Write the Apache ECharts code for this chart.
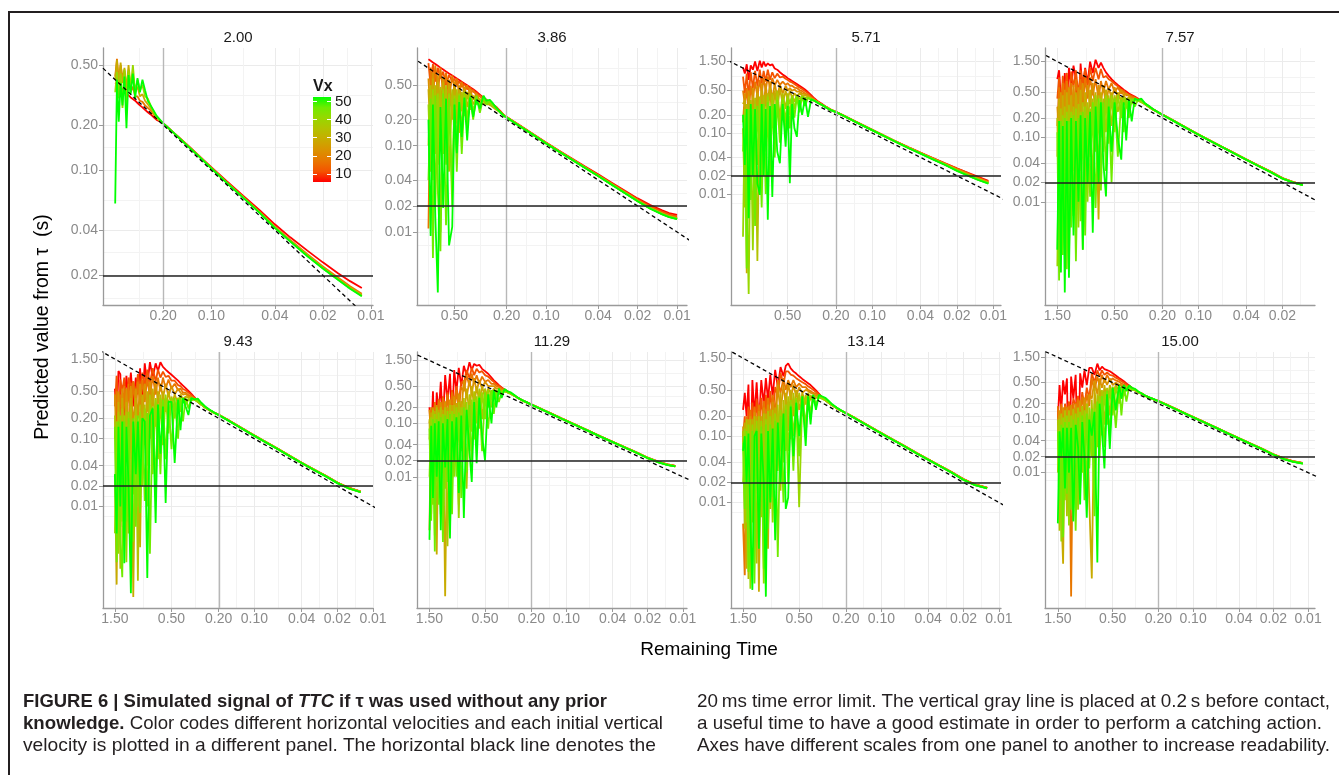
<!DOCTYPE html>
<html>
<head>
<meta charset="utf-8">
<script src="https://cdn.jsdelivr.net/npm/echarts@6/dist/echarts.min.js"></script>
<style>
html,body{margin:0;padding:0;background:#fff;overflow:hidden;}
#chart{position:absolute;left:0;top:0;width:1339px;height:775px;}
#frame{position:absolute;left:8px;top:11px;width:1400px;height:800px;border-left:2px solid #231f20;border-top:2px solid #231f20;}
.cap{position:absolute;white-space:nowrap;font-family:"Liberation Sans",Arial,sans-serif;font-size:19px;line-height:22px;color:#231f20;transform-origin:0 50%;}
</style>
</head>
<body>
<div id="frame"></div>
<div id="chart"></div>
<div class="cap" style="left:23px;top:690px" data-w="584"><b>FIGURE 6 | Simulated signal of <i>TTC</i> if τ was used without any prior</b></div>
<div class="cap" style="left:23px;top:712px" data-w="640"><b>knowledge.</b> Color codes different horizontal velocities and each initial vertical</div>
<div class="cap" style="left:23px;top:734px" data-w="633">velocity is plotted in a different panel. The horizontal black line denotes the</div>
<div class="cap" style="left:697px;top:690px" data-w="633">20&#8201;ms time error limit. The vertical gray line is placed at 0.2&#8201;s before contact,</div>
<div class="cap" style="left:697px;top:712px" data-w="625">a useful time to have a good estimate in order to perform a catching action.</div>
<div class="cap" style="left:697px;top:734px" data-w="633">Axes have different scales from one panel to another to increase readability.</div>
<script>
// ---------------- DATA ----------------
const PANEL_TITLES = ['2.00','3.86','5.71','7.57','9.43','11.29','13.14','15.00'];
const VX = [10, 15, 20, 25, 30, 35, 40, 45, 50];
const VX_COLORS = ['#FF0000','#F45300','#E87700','#DA9200','#C8AB00','#B3C200','#98D700','#70EB00','#00FF00'];
const BREAKS = [0.01, 0.02, 0.04, 0.1, 0.2, 0.5, 1.5];
const COLORBAR_TICKS = [10, 20, 30, 40, 50];
const COLORBAR_RANGE = [5.5, 52.5];
const ERROR_LIMIT = 0.02;
const CATCH_TIME = 0.2;
const IDENTITY = [0.00001, 10];
const X_RANGES = [[0.0097,0.477],[0.0084,0.966],[0.00865,1.47],[0.0107,1.9],[0.0100,1.89],[0.0092,1.92],[0.0096,1.90],[0.0087,1.94]];
const Y_RANGES = [[0.0127,0.65],[0.00143,1.35],[0.000151,2.5],[0.00025,2.44],[0.000316,1.91],[0.000035,2.17],[0.000256,1.86],[0.0000278,1.89]];

// Panel 1 (Vz = 2.00)
const T1 = [0.400,0.390,0.380,0.370,0.360,0.350,0.340,0.330,0.320,0.310,0.300,0.290,0.280,0.270,0.260,0.250,0.240,0.230,0.220,
  0.200,0.170,0.140,0.120,0.100,0.080,0.063,0.050,0.040,0.032,0.025,0.020,0.016,0.0135,0.0114];
const P1_10 = [0.380,0.370,0.365,0.355,0.345,0.335,0.325,0.315,0.305,0.298,0.290,0.280,0.270,0.262,0.252,0.243,0.235,0.226,0.216,
  0.206,0.176,0.146,0.1255,0.105,0.0845,0.0675,0.0545,0.0437,0.0358,0.0292,0.0244,0.0206,0.0183,0.0165];
const P1_20 = [0.420,0.550,0.400,0.500,0.410,0.460,0.360,0.420,0.330,0.360,0.310,0.310,0.290,0.285,0.270,0.260,0.250,0.235,0.222,
  0.205,0.1755,0.145,0.1248,0.1038,0.0832,0.0662,0.0530,0.0422,0.0344,0.0276,0.0229,0.0193,0.0169,0.0151];
const P1_30 = [0.400,0.540,0.360,0.520,0.380,0.480,0.340,0.500,0.360,0.420,0.330,0.360,0.310,0.320,0.290,0.275,0.260,0.240,0.222,
  0.205,0.175,0.1448,0.1245,0.1035,0.0828,0.0659,0.0527,0.0418,0.0340,0.0272,0.0225,0.0189,0.0166,0.0148];
const P1_40 = [0.330,0.450,0.300,0.440,0.260,0.470,0.260,0.460,0.350,0.500,0.330,0.400,0.340,0.370,0.310,0.300,0.270,0.245,0.225,
  0.205,0.175,0.1445,0.1242,0.1032,0.0826,0.0657,0.0524,0.0416,0.0338,0.0270,0.0223,0.0187,0.0164,0.0146];
const P1_50 = [0.060,0.400,0.210,0.380,0.270,0.420,0.190,0.430,0.320,0.440,0.300,0.410,0.330,0.400,0.340,0.290,0.270,0.250,0.230,
  0.205,0.175,0.144,0.124,0.103,0.0825,0.0655,0.0522,0.0414,0.0336,0.0268,0.0222,0.0186,0.0163,0.0145];

// Panel 2 (Vz = 3.86)
const T2 = [0.79,0.76,0.73,0.70,0.67,0.64,0.61,0.58,0.55,0.52,0.50,0.48,0.46,0.44,0.42,0.40,0.38,0.36,0.34,0.32,0.30,0.285,0.27,0.255,0.24,0.225,
  0.21,0.19,0.16,0.13,0.10,0.08,0.063,0.05,0.04,0.032,0.025,0.02,0.016,0.013,0.0115,0.010];
const P2_10 = [1.00,0.96,0.92,0.88,0.84,0.80,0.76,0.72,0.685,0.65,0.625,0.60,0.575,0.55,0.525,0.50,0.475,0.45,0.42,0.39,0.36,0.34,0.32,0.30,0.28,0.255,
  0.226,0.205,0.173,0.141,0.109,0.088,0.0705,0.0570,0.0465,0.0378,0.0300,0.0245,0.0205,0.0178,0.0166,0.0158];
const P2_15 = [0.90,0.50,0.88,0.55,0.80,0.60,0.72,0.50,0.66,0.55,0.60,0.50,0.56,0.48,0.52,0.45,0.47,0.42,0.41,0.37,0.35,0.33,0.31,0.295,0.275,0.252,
  0.225,0.204,0.172,0.140,0.108,0.0872,0.0697,0.0563,0.0458,0.0371,0.0294,0.0239,0.0198,0.0172,0.0160,0.0152];
const P2_20 = [0.011,0.80,0.35,0.85,0.40,0.80,0.40,0.70,0.35,0.65,0.45,0.60,0.40,0.55,0.42,0.50,0.40,0.44,0.38,0.38,0.34,0.33,0.31,0.30,0.28,0.25,
  0.224,0.203,0.171,0.139,0.107,0.0865,0.069,0.0556,0.0451,0.0365,0.0289,0.0233,0.0192,0.0166,0.0154,0.0147];
const P2_25 = [0.60,0.20,0.70,0.25,0.65,0.28,0.62,0.22,0.58,0.30,0.55,0.30,0.50,0.32,0.48,0.35,0.45,0.34,0.40,0.33,0.35,0.31,0.30,0.29,0.27,0.248,
  0.2235,0.2025,0.1705,0.1388,0.1068,0.0862,0.0688,0.0554,0.0449,0.0363,0.0287,0.0231,0.0190,0.0164,0.0152,0.0145];
const P2_30 = [0.45,0.12,0.60,0.08,0.55,0.15,0.55,0.10,0.50,0.20,0.48,0.18,0.45,0.25,0.45,0.28,0.40,0.30,0.36,0.31,0.33,0.30,0.30,0.28,0.26,0.245,
  0.223,0.202,0.170,0.1385,0.1065,0.086,0.0686,0.0552,0.0447,0.0361,0.0285,0.0230,0.0189,0.0163,0.0151,0.0144];
const P2_35 = [0.10,0.50,0.04,0.50,0.06,0.48,0.08,0.50,0.05,0.45,0.12,0.45,0.14,0.42,0.22,0.42,0.26,0.38,0.30,0.35,0.30,0.34,0.30,0.29,0.265,0.245,
  0.2225,0.2018,0.1698,0.1383,0.1063,0.0858,0.0685,0.0551,0.0446,0.0360,0.0284,0.0229,0.0188,0.0162,0.01505,0.0143];
const P2_40 = [0.30,0.05,0.45,0.02,0.40,0.01,0.45,0.06,0.40,0.03,0.38,0.10,0.40,0.15,0.42,0.20,0.40,0.25,0.37,0.29,0.36,0.31,0.32,0.29,0.27,0.245,
  0.222,0.2015,0.1695,0.138,0.106,0.0857,0.0684,0.055,0.0445,0.0359,0.0283,0.0228,0.0187,0.0161,0.0150,0.0142];
const P2_45 = [0.04,0.35,0.005,0.38,0.03,0.006,0.40,0.012,0.35,0.02,0.35,0.05,0.38,0.08,0.35,0.16,0.38,0.20,0.38,0.24,0.37,0.30,0.33,0.30,0.27,0.245,
  0.222,0.2012,0.1692,0.138,0.106,0.0856,0.0683,0.0549,0.04445,0.03585,0.02825,0.02275,0.01865,0.01605,0.01495,0.01415];
const P2_50 = [0.20,0.009,0.30,0.015,0.002,0.28,0.019,0.35,0.007,0.0115,0.30,0.082,0.32,0.126,0.36,0.115,0.36,0.216,0.34,0.27,0.38,0.33,0.34,0.31,0.275,0.245,
  0.222,0.201,0.169,0.138,0.106,0.0855,0.0682,0.0548,0.0444,0.0358,0.0282,0.0227,0.0186,0.0160,0.0149,0.0141];

// Panel 3 (Vz = 5.71)
const T3 = [1.17,1.13,1.09,1.05,1.01,0.97,0.93,0.89,0.85,0.82,0.79,0.76,0.73,0.70,0.67,0.64,0.61,0.58,0.55,0.52,0.50,0.48,0.46,0.44,0.42,0.40,0.38,0.36,0.34,0.32,0.30,0.28,0.26,0.24,0.22,
  0.20,0.17,0.14,0.11,0.085,0.065,0.05,0.04,0.032,0.025,0.02,0.016,0.0135,0.011];
const P3_10 = [1.20,0.95,1.35,0.75,1.30,1.10,1.50,1.05,1.55,1.20,1.50,1.25,1.40,1.30,1.35,1.15,1.10,1.00,0.92,0.85,0.80,0.76,0.72,0.68,0.64,0.60,0.56,0.52,0.47,0.42,0.37,0.33,0.30,0.27,0.245,
  0.225,0.192,0.158,0.125,0.097,0.0745,0.0585,0.048,0.0395,0.032,0.0265,0.0222,0.0193,0.0165];
const P3_15 = [0.85,0.45,0.95,0.40,1.00,0.55,1.05,0.60,1.10,0.65,1.05,0.70,1.10,0.75,1.00,0.80,0.95,0.82,0.85,0.78,0.75,0.70,0.68,0.64,0.60,0.56,0.53,0.49,0.45,0.40,0.36,0.325,0.295,0.268,0.243,
  0.2245,0.1915,0.1575,0.1245,0.0966,0.0742,0.0582,0.0477,0.0392,0.0317,0.0261,0.0218,0.0189,0.0161];
const P3_20 = [0.50,0.30,0.55,0.20,0.60,0.35,0.70,0.40,0.75,0.45,0.80,0.50,0.85,0.55,0.80,0.60,0.75,0.62,0.70,0.62,0.66,0.60,0.60,0.56,0.55,0.51,0.49,0.45,0.42,0.38,0.35,0.32,0.29,0.265,0.24,
  0.224,0.191,0.157,0.124,0.0962,0.0739,0.0578,0.0474,0.0388,0.0313,0.0256,0.0213,0.0184,0.0157];
const P3_25 = [0.15,0.45,0.08,0.50,0.10,0.55,0.15,0.60,0.18,0.65,0.25,0.65,0.30,0.70,0.35,0.65,0.40,0.62,0.45,0.60,0.50,0.55,0.50,0.52,0.48,0.48,0.45,0.44,0.41,0.375,0.345,0.315,0.29,0.265,0.24,
  0.2235,0.1905,0.1565,0.1235,0.096,0.0737,0.0575,0.0472,0.0386,0.0311,0.0253,0.0210,0.0181,0.0156];
const P3_30 = [0.30,0.35,0.0005,0.40,0.05,0.40,0.08,0.45,0.12,0.50,0.10,0.45,0.20,0.55,0.15,0.50,0.25,0.55,0.30,0.50,0.35,0.50,0.38,0.45,0.40,0.45,0.42,0.42,0.40,0.37,0.34,0.31,0.29,0.265,0.24,
  0.223,0.190,0.156,0.123,0.0957,0.0735,0.0572,0.0469,0.0383,0.0308,0.0249,0.0206,0.0178,0.0154];
const P3_35 = [0.12,0.006,0.30,0.02,0.35,0.04,0.38,0.0008,0.40,0.06,0.42,0.08,0.45,0.10,0.45,0.15,0.50,0.18,0.45,0.25,0.45,0.30,0.42,0.33,0.42,0.36,0.41,0.38,0.39,0.36,0.34,0.315,0.29,0.265,0.24,
  0.2225,0.1898,0.1558,0.1228,0.0955,0.0734,0.057,0.0467,0.038,0.0305,0.0246,0.0203,0.0176,0.0152];
const P3_40 = [0.002,0.25,0.01,0.00023,0.20,0.0012,0.30,0.03,0.35,0.02,0.30,0.05,0.40,0.06,0.35,0.10,0.40,0.12,0.38,0.15,0.40,0.20,0.40,0.25,0.42,0.30,0.40,0.33,0.38,0.35,0.34,0.32,0.29,0.265,0.24,
  0.222,0.1895,0.1555,0.1225,0.0953,0.0732,0.0568,0.0465,0.0378,0.0303,0.0244,0.0201,0.0174,0.0151];
const P3_45 = [0.05,0.20,0.0006,0.25,0.008,0.25,0.003,0.28,0.05,0.006,0.30,0.01,0.32,0.02,0.30,0.04,0.35,0.07,0.35,0.09,0.35,0.12,0.38,0.18,0.40,0.22,0.40,0.28,0.38,0.36,0.34,0.315,0.29,0.263,0.239,
  0.222,0.1892,0.1552,0.1222,0.0951,0.0731,0.0566,0.0463,0.0376,0.0301,0.0242,0.0199,0.0173,0.0149];
const P3_50 = [0.20,0.03,0.25,0.004,0.30,0.02,0.25,0.015,0.0097,0.30,0.02,0.25,0.0038,0.28,0.009,0.30,0.05,0.032,0.30,0.06,0.28,0.015,0.30,0.12,0.087,0.35,0.20,0.38,0.186,0.36,0.34,0.31,0.29,0.262,0.238,
  0.222,0.189,0.155,0.122,0.095,0.073,0.0565,0.0462,0.0375,0.0300,0.0240,0.0198,0.0172,0.0148];

// Panels 4-8 share the early remaining-time samples
const T_EARLY = [1.50,1.45,1.40,1.35,1.30,1.25,1.20,1.15,1.10,1.05,1.00,0.96,0.92,0.88,0.84,0.80,0.76,0.72,0.68,0.65,0.62,0.59,0.56,0.53,0.50,0.47,0.44,0.42,0.40,0.38,0.36,0.34,0.32,0.30,0.28,0.26,0.24,0.22];

// Panel 4 (Vz = 7.57)
const T4 = [...T_EARLY, 0.20,0.17,0.14,0.11,0.085,0.065,0.05,0.04,0.032,0.025,0.02,0.016,0.0135];
const P4_10 = [0.80,1.10,0.40,0.05,1.00,0.30,1.20,0.60,1.30,0.80,0.13,1.40,0.50,1.20,0.70,1.50,1.00,1.60,1.20,1.45,1.20,1.02,0.90,0.80,0.72,0.65,0.59,0.55,0.515,0.48,0.455,0.43,0.40,0.37,0.335,0.305,0.275,0.25,
  0.226,0.192,0.157,0.122,0.0945,0.0728,0.0565,0.0455,0.0368,0.0294,0.0234,0.0201,0.0185];
const P4_15 = [0.40,0.85,0.25,0.90,0.50,1.00,0.35,1.05,0.60,1.10,0.45,1.10,0.70,1.15,0.60,1.20,0.75,1.20,0.80,1.15,0.85,0.90,0.80,0.75,0.68,0.62,0.55,0.53,0.48,0.46,0.44,0.42,0.39,0.365,0.333,0.303,0.274,0.249,
  0.2258,0.1918,0.1568,0.1219,0.0944,0.0727,0.0564,0.04545,0.0367,0.0293,0.0233,0.02005,0.01845];
const P4_20 = [0.15,0.60,0.20,0.70,0.25,0.75,0.30,0.70,0.20,0.80,0.35,0.80,0.30,0.85,0.40,0.85,0.45,0.80,0.40,0.75,0.50,0.75,0.55,0.70,0.50,0.60,0.48,0.52,0.45,0.45,0.42,0.41,0.385,0.36,0.33,0.30,0.272,0.248,
  0.2255,0.1915,0.1565,0.1218,0.0943,0.0726,0.0563,0.0454,0.0366,0.0292,0.0232,0.0200,0.0184];
const P4_25 = [0.30,0.10,0.50,0.08,0.55,0.12,0.60,0.15,0.65,0.10,0.60,0.20,0.70,0.25,0.65,0.30,0.70,0.22,0.65,0.35,0.65,0.30,0.60,0.40,0.60,0.42,0.55,0.45,0.48,0.44,0.40,0.40,0.38,0.357,0.33,0.30,0.272,0.248,
  0.2252,0.1912,0.1562,0.1216,0.0941,0.0725,0.0562,0.0453,0.03655,0.02915,0.02315,0.01995,0.01835];
const P4_30 = [0.05,0.40,0.008,0.45,0.02,0.50,0.05,0.45,0.03,0.50,0.10,0.55,0.06,0.50,0.12,0.55,0.15,0.50,0.0053,0.50,0.20,0.55,0.25,0.50,0.30,0.50,0.35,0.45,0.38,0.42,0.38,0.40,0.37,0.355,0.33,0.30,0.272,0.248,
  0.225,0.191,0.156,0.1215,0.094,0.0724,0.0561,0.0452,0.0365,0.0291,0.0231,0.0199,0.0183];
const P4_35 = [0.20,0.003,0.28,0.01,0.30,0.004,0.32,0.02,0.30,0.008,0.33,0.03,0.35,0.01,0.35,0.05,0.40,0.06,0.45,0.10,0.40,0.12,0.45,0.15,0.45,0.25,0.42,0.32,0.40,0.40,0.36,0.39,0.37,0.355,0.33,0.30,0.272,0.248,
  0.2248,0.1908,0.1558,0.1214,0.0939,0.0723,0.05605,0.04515,0.0364,0.029,0.02305,0.01985,0.01825];
const P4_40 = [0.001,0.18,0.006,0.22,0.002,0.25,0.0013,0.25,0.006,0.28,0.004,0.25,0.0018,0.30,0.01,0.28,0.02,0.45,0.03,0.40,0.06,0.45,0.08,0.45,0.12,0.45,0.20,0.42,0.28,0.40,0.33,0.38,0.37,0.355,0.33,0.30,0.272,0.248,
  0.2245,0.1905,0.1555,0.1212,0.0938,0.0722,0.0560,0.0451,0.0363,0.0289,0.0230,0.0198,0.0182];
const P4_45 = [0.12,0.0006,0.18,0.0015,0.20,0.0009,0.18,0.004,0.22,0.0012,0.20,0.005,0.25,0.003,0.22,0.012,0.35,0.008,0.40,0.015,0.35,0.03,0.40,0.02,0.40,0.05,0.38,0.12,0.40,0.20,0.40,0.30,0.38,0.38,0.34,0.305,0.274,0.249,
  0.2242,0.1902,0.1552,0.1211,0.09365,0.0721,0.0559,0.04505,0.03625,0.02885,0.02295,0.01975,0.01815];
const P4_50 = [0.0018,0.18,0.0008,0.15,0.00039,0.18,0.00066,0.20,0.003,0.18,0.01,0.22,0.0018,0.20,0.02,0.25,0.0033,0.30,0.02,0.35,0.04,0.0121,0.30,0.06,0.35,0.10,0.045,0.35,0.09,0.38,0.177,0.40,0.38,0.40,0.34,0.31,0.275,0.25,
  0.224,0.190,0.155,0.121,0.0935,0.0720,0.0558,0.0450,0.0362,0.0288,0.0229,0.0197,0.0181];

// Panel 5 (Vz = 9.43)
const T5 = [...T_EARLY, 0.20,0.17,0.14,0.11,0.085,0.065,0.05,0.04,0.032,0.025,0.02,0.016,0.0127];
const P5_10 = [0.55,0.18,1.00,0.90,0.048,0.30,0.85,0.40,0.95,0.30,0.80,0.45,1.10,0.35,1.30,0.60,1.35,0.80,1.30,1.00,1.35,1.15,1.05,0.96,0.88,0.80,0.72,0.66,0.61,0.56,0.51,0.46,0.41,0.36,0.32,0.29,0.265,0.245,
  0.226,0.193,0.158,0.123,0.0950,0.0728,0.0555,0.0443,0.0357,0.0283,0.0226,0.0189,0.0166];
const P5_15 = [0.30,0.85,0.12,0.75,0.50,0.80,0.20,0.80,0.60,0.70,0.45,0.90,0.55,0.95,0.60,1.05,0.65,1.10,0.70,1.05,0.80,0.98,0.82,0.85,0.72,0.72,0.62,0.60,0.54,0.52,0.48,0.44,0.40,0.355,0.32,0.29,0.265,0.244,
  0.2258,0.1928,0.1578,0.1228,0.0949,0.0727,0.05545,0.04425,0.03565,0.02825,0.02255,0.01885,0.01655];
const P5_20 = [0.10,0.50,0.30,0.45,0.15,0.60,0.10,0.65,0.20,0.70,0.25,0.70,0.30,0.75,0.35,0.80,0.40,0.85,0.45,0.80,0.50,0.80,0.55,0.75,0.55,0.65,0.52,0.55,0.48,0.48,0.44,0.42,0.39,0.35,0.32,0.29,0.265,0.243,
  0.2255,0.1925,0.1575,0.1225,0.0947,0.0726,0.0554,0.0442,0.0356,0.0282,0.0225,0.0188,0.0165];
const P5_25 = [0.45,0.05,0.50,0.06,0.55,0.08,0.55,0.12,0.60,0.15,0.55,0.20,0.65,0.18,0.65,0.25,0.70,0.30,0.70,0.35,0.65,0.40,0.65,0.42,0.60,0.45,0.55,0.48,0.45,0.46,0.42,0.41,0.385,0.35,0.32,0.29,0.265,0.243,
  0.2252,0.1922,0.1572,0.1222,0.0945,0.07245,0.0553,0.0441,0.03555,0.02815,0.02245,0.01875,0.01645];
const P5_30 = [0.03,0.0007,0.35,0.005,0.40,0.01,0.35,0.03,0.40,0.00046,0.40,0.05,0.0025,0.45,0.08,0.50,0.10,0.55,0.15,0.50,0.20,0.50,0.25,0.50,0.30,0.45,0.33,0.45,0.38,0.42,0.40,0.40,0.38,0.35,0.32,0.29,0.265,0.243,
  0.225,0.192,0.157,0.122,0.0943,0.0723,0.0552,0.044,0.0355,0.0281,0.0224,0.0187,0.0164];
const P5_35 = [0.22,0.008,0.25,0.0012,0.28,0.02,0.25,0.004,0.30,0.015,0.28,0.0008,0.32,0.03,0.32,0.04,0.45,0.06,0.40,0.10,0.45,0.15,0.40,0.20,0.42,0.25,0.40,0.30,0.40,0.36,0.38,0.38,0.38,0.35,0.32,0.29,0.265,0.243,
  0.2245,0.1915,0.1565,0.1218,0.0941,0.07215,0.0551,0.0439,0.0354,0.028,0.0223,0.0186,0.01635];
const P5_40 = [0.004,0.18,0.002,0.22,0.006,0.22,0.0015,0.25,0.008,0.003,0.22,0.01,0.25,0.02,0.28,0.01,0.32,0.03,0.38,0.05,0.40,0.08,0.45,0.12,0.40,0.20,0.40,0.25,0.40,0.32,0.38,0.37,0.38,0.35,0.32,0.29,0.265,0.243,
  0.224,0.191,0.156,0.1215,0.0939,0.0720,0.0550,0.0438,0.0353,0.0279,0.0222,0.0185,0.0163];
const P5_45 = [0.15,0.0015,0.18,0.003,0.0009,0.18,0.006,0.20,0.002,0.20,0.005,0.22,0.008,0.20,0.012,0.24,0.002,0.30,0.02,0.32,0.03,0.38,0.05,0.38,0.07,0.40,0.10,0.42,0.18,0.40,0.28,0.40,0.38,0.37,0.33,0.295,0.267,0.244,
  0.2235,0.1905,0.1555,0.1212,0.0937,0.0719,0.0549,0.04375,0.03525,0.02785,0.02215,0.01845,0.01625];
const P5_50 = [0.03,0.004,0.15,0.01,0.18,0.00145,0.15,0.02,0.00052,0.18,0.03,0.18,0.02,0.20,0.18,0.00088,0.22,0.28,0.0057,0.32,0.06,0.30,0.0112,0.35,0.35,0.044,0.38,0.134,0.40,0.30,0.224,0.40,0.38,0.39,0.34,0.30,0.27,0.246,
  0.223,0.190,0.155,0.121,0.0935,0.0718,0.0548,0.0437,0.0352,0.0278,0.0221,0.0184,0.0162];

// Panel 6 (Vz = 11.29)
const T6 = [...T_EARLY, 0.20,0.17,0.14,0.11,0.085,0.065,0.05,0.04,0.032,0.025,0.02,0.016,0.0135,0.0116];
const P6_10 = [0.20,0.049,0.40,0.032,0.38,0.15,0.60,0.10,0.80,0.25,0.85,0.10,1.00,0.40,1.10,0.50,1.20,0.80,1.40,1.00,1.30,1.20,1.25,1.05,0.95,0.85,0.72,0.64,0.58,0.52,0.47,0.43,0.40,0.36,0.33,0.30,0.27,0.25,
  0.227,0.193,0.159,0.124,0.0960,0.0735,0.0562,0.0452,0.0364,0.0287,0.0228,0.0190,0.0171,0.0161];
const P6_15 = [0.10,0.18,0.02,0.25,0.06,0.28,0.05,0.32,0.12,0.38,0.10,0.42,0.25,0.50,0.25,0.60,0.55,1.00,0.70,1.10,0.80,1.05,0.90,0.95,0.80,0.75,0.65,0.60,0.54,0.50,0.46,0.425,0.395,0.36,0.33,0.30,0.27,0.248,
  0.2265,0.1925,0.1585,0.1238,0.0958,0.0733,0.05605,0.0451,0.0363,0.0286,0.0227,0.0189,0.017,0.016];
const P6_20 = [0.001,0.20,0.06,0.25,0.08,0.28,0.10,0.30,0.12,0.35,0.10,0.38,0.15,0.42,0.18,0.48,0.40,0.80,0.50,0.85,0.55,0.80,0.55,0.75,0.60,0.65,0.55,0.55,0.50,0.48,0.45,0.42,0.39,0.36,0.33,0.30,0.27,0.247,
  0.226,0.192,0.158,0.1235,0.0955,0.0731,0.0559,0.0450,0.0362,0.0285,0.0226,0.0188,0.0169,0.0159];
const P6_25 = [0.18,0.04,0.20,0.05,0.22,0.01,0.25,0.07,0.26,0.08,0.28,0.10,0.32,0.12,0.36,0.15,0.65,0.30,0.65,0.35,0.70,0.40,0.65,0.45,0.60,0.50,0.50,0.50,0.45,0.45,0.42,0.41,0.385,0.36,0.33,0.30,0.27,0.247,
  0.2258,0.1918,0.1578,0.1233,0.0953,0.073,0.0558,0.0449,0.03615,0.02845,0.02255,0.01875,0.01685,0.01585];
const P6_30 = [0.05,0.16,0.02,0.17,0.00035,0.18,0.005,0.18,0.000058,0.20,0.02,0.22,0.05,0.24,0.003,0.26,0.10,0.45,0.15,0.50,0.20,0.50,0.25,0.50,0.30,0.45,0.35,0.45,0.38,0.42,0.40,0.40,0.38,0.36,0.33,0.30,0.27,0.247,
  0.2255,0.1915,0.1575,0.123,0.0952,0.0729,0.0557,0.0448,0.0361,0.0284,0.0225,0.0187,0.0168,0.0158];
const P6_35 = [0.12,0.002,0.18,0.0008,0.20,0.004,0.20,0.012,0.20,0.0005,0.22,0.008,0.22,0.02,0.25,0.03,0.30,0.006,0.35,0.07,0.40,0.10,0.45,0.12,0.45,0.20,0.42,0.28,0.42,0.35,0.40,0.40,0.38,0.36,0.33,0.30,0.27,0.247,
  0.2252,0.1912,0.1572,0.1228,0.095,0.07275,0.0556,0.04475,0.036,0.02835,0.02245,0.01865,0.01675,0.01575];
const P6_40 = [0.01,0.13,0.003,0.15,0.008,0.16,0.002,0.15,0.006,0.17,0.001,0.17,0.01,0.20,0.0017,0.20,0.02,0.25,0.03,0.28,0.05,0.32,0.08,0.38,0.12,0.42,0.20,0.42,0.28,0.40,0.35,0.40,0.38,0.36,0.33,0.30,0.27,0.247,
  0.225,0.191,0.157,0.1225,0.0948,0.0726,0.0555,0.0447,0.0359,0.0283,0.0224,0.0186,0.0167,0.0157];
const P6_45 = [0.08,0.0015,0.12,0.0004,0.12,0.003,0.13,0.0006,0.14,0.008,0.15,0.002,0.15,0.01,0.16,0.004,0.20,0.012,0.22,0.02,0.28,0.04,0.32,0.03,0.38,0.08,0.42,0.15,0.42,0.25,0.40,0.42,0.39,0.37,0.335,0.30,0.271,0.248,
  0.2245,0.1905,0.1565,0.1222,0.0946,0.0725,0.05545,0.04465,0.03585,0.02825,0.02235,0.01855,0.01665,0.0157];
const P6_50 = [0.00066,0.09,0.004,0.10,0.01,0.11,0.001,0.10,0.015,0.12,0.0007,0.11,0.02,0.13,0.005,0.14,0.0017,0.18,0.03,0.008,0.25,0.018,0.30,0.06,0.02,0.35,0.10,0.42,0.20,0.45,0.30,0.44,0.40,0.38,0.34,0.30,0.272,0.25,
  0.224,0.190,0.156,0.122,0.0945,0.0724,0.0554,0.0446,0.0358,0.0282,0.0223,0.0185,0.0166,0.0157];

// Panel 7 (Vz = 13.14)
const T7 = [...T_EARLY, 0.20,0.17,0.14,0.11,0.085,0.065,0.05,0.04,0.032,0.025,0.02,0.016,0.0126];
const P7_10 = [0.25,0.45,0.20,0.60,0.038,0.70,0.20,0.65,0.15,0.70,0.30,0.75,0.35,0.85,0.40,1.00,0.55,1.10,0.80,1.15,1.25,1.05,0.95,0.88,0.80,0.73,0.67,0.63,0.59,0.54,0.49,0.44,0.39,0.35,0.32,0.29,0.265,0.243,
  0.224,0.191,0.157,0.1225,0.0948,0.0728,0.0557,0.0448,0.0361,0.0285,0.0225,0.0188,0.0167];
const P7_15 = [0.10,0.20,0.06,0.28,0.12,0.32,0.08,0.36,0.15,0.38,0.12,0.42,0.16,0.48,0.20,0.55,0.40,0.90,0.60,0.95,0.95,0.85,0.82,0.75,0.70,0.65,0.61,0.565,0.535,0.50,0.465,0.425,0.385,0.35,0.32,0.29,0.265,0.2425,
  0.2236,0.1906,0.1566,0.1222,0.0946,0.07265,0.0556,0.04475,0.036,0.0284,0.0224,0.0187,0.01665];
const P7_20 = [0.0048,0.0008,0.20,0.06,0.25,0.09,0.28,0.12,0.30,0.12,0.34,0.15,0.38,0.18,0.42,0.22,0.70,0.45,0.75,0.50,0.70,0.55,0.70,0.55,0.62,0.55,0.55,0.50,0.48,0.45,0.44,0.41,0.38,0.35,0.32,0.29,0.265,0.242,
  0.2232,0.1902,0.1562,0.122,0.0944,0.0725,0.0555,0.0447,0.0359,0.0283,0.0223,0.0186,0.0166];
const P7_25 = [0.14,0.02,0.18,0.04,0.20,0.03,0.23,0.06,0.24,0.04,0.27,0.07,0.30,0.09,0.33,0.11,0.60,0.22,0.60,0.30,0.65,0.35,0.60,0.40,0.55,0.45,0.50,0.48,0.45,0.44,0.41,0.40,0.375,0.35,0.32,0.29,0.265,0.242,
  0.2228,0.1898,0.1558,0.1218,0.0942,0.07235,0.05535,0.0446,0.03585,0.02825,0.02225,0.01855,0.01655];
const P7_30 = [0.08,0.16,0.001,0.18,0.01,0.18,0.003,0.20,0.00045,0.20,0.008,0.22,0.002,0.25,0.01,0.27,0.05,0.45,0.08,0.45,0.12,0.50,0.20,0.50,0.25,0.45,0.30,0.45,0.35,0.42,0.38,0.40,0.37,0.35,0.32,0.29,0.265,0.242,
  0.2225,0.1895,0.1555,0.1215,0.094,0.0722,0.0552,0.0445,0.0358,0.0282,0.0222,0.0185,0.0165];
const P7_35 = [0.12,0.004,0.18,0.0007,0.18,0.005,0.20,0.0012,0.20,0.006,0.22,0.0009,0.24,0.008,0.25,0.02,0.30,0.015,0.35,0.06,0.40,0.09,0.45,0.15,0.45,0.20,0.42,0.26,0.42,0.34,0.38,0.39,0.37,0.35,0.32,0.29,0.265,0.242,
  0.2222,0.1892,0.1552,0.1212,0.0938,0.07205,0.0551,0.0444,0.0357,0.0281,0.0221,0.0184,0.01645];
const P7_40 = [0.02,0.13,0.005,0.15,0.0005,0.15,0.01,0.17,0.004,0.17,0.0006,0.18,0.015,0.20,0.005,0.22,0.03,0.25,0.04,0.30,0.06,0.35,0.10,0.38,0.0085,0.40,0.15,0.40,0.22,0.40,0.30,0.38,0.37,0.35,0.32,0.29,0.265,0.242,
  0.222,0.189,0.155,0.121,0.0936,0.0719,0.055,0.0443,0.0356,0.028,0.022,0.0183,0.0164];
const P7_45 = [0.08,0.008,0.12,0.0009,0.002,0.12,0.0006,0.13,0.006,0.14,0.001,0.15,0.004,0.15,0.012,0.17,0.0015,0.20,0.01,0.25,0.02,0.30,0.03,0.35,0.05,0.40,0.10,0.42,0.18,0.42,0.28,0.40,0.39,0.37,0.33,0.295,0.268,0.244,
  0.2215,0.1885,0.1545,0.1208,0.0934,0.07175,0.0549,0.04425,0.03555,0.02795,0.02195,0.01825,0.01635];
const P7_50 = [0.06,0.10,0.02,0.11,0.005,0.00048,0.10,0.12,0.002,0.11,0.02,0.00038,0.12,0.01,0.13,0.0027,0.16,0.02,0.22,0.008,0.0119,0.28,0.05,0.32,0.10,0.40,0.071,0.40,0.15,0.42,0.25,0.42,0.40,0.38,0.34,0.30,0.27,0.245,
  0.221,0.188,0.154,0.1205,0.0932,0.0716,0.0548,0.0442,0.0355,0.0279,0.0219,0.0182,0.0163];

// Panel 8 (Vz = 15.00)
const T8 = [...T_EARLY, 0.20,0.17,0.14,0.11,0.085,0.065,0.05,0.04,0.032,0.025,0.02,0.016,0.0135,0.0111];
const P8_10 = [0.10,0.45,0.15,0.55,0.30,0.60,0.0034,0.65,0.25,0.70,0.0094,0.75,0.40,0.85,0.45,0.95,0.95,0.70,1.14,0.85,1.00,0.90,0.86,0.82,0.75,0.68,0.61,0.57,0.53,0.48,0.44,0.40,0.36,0.33,0.31,0.28,0.26,0.242,
  0.225,0.192,0.158,0.1235,0.0955,0.0730,0.0558,0.0447,0.0358,0.0281,0.0222,0.0183,0.0164,0.0152];
const P8_15 = [0.15,0.10,0.18,0.04,0.20,0.14,0.22,0.10,0.25,0.18,0.28,0.15,0.33,0.18,0.40,0.25,0.75,0.50,0.85,0.65,0.85,0.70,0.78,0.70,0.68,0.62,0.57,0.53,0.50,0.46,0.43,0.395,0.36,0.33,0.31,0.28,0.26,0.242,
  0.2247,0.1917,0.1577,0.1233,0.0953,0.07285,0.0557,0.0446,0.0357,0.028,0.0221,0.0182,0.01635,0.01515];
const P8_20 = [0.18,0.04,0.20,0.06,0.18,0.08,0.18,0.000046,0.20,0.09,0.24,0.11,0.27,0.14,0.30,0.18,0.60,0.35,0.65,0.45,0.70,0.50,0.70,0.55,0.60,0.55,0.52,0.48,0.46,0.44,0.42,0.39,0.36,0.33,0.31,0.28,0.26,0.242,
  0.2243,0.1913,0.1573,0.123,0.0951,0.0727,0.0556,0.0445,0.0356,0.0279,0.0220,0.0181,0.0163,0.0151];
const P8_25 = [0.10,0.15,0.02,0.17,0.04,0.17,0.03,0.19,0.05,0.20,0.06,0.23,0.09,0.26,0.12,0.30,0.25,0.55,0.30,0.60,0.40,0.60,0.45,0.60,0.45,0.50,0.45,0.45,0.43,0.43,0.41,0.385,0.36,0.33,0.31,0.28,0.26,0.242,
  0.2239,0.1909,0.1569,0.1228,0.0949,0.0726,0.0555,0.04445,0.03555,0.02785,0.02195,0.01805,0.01625,0.01505];
const P8_30 = [0.05,0.12,0.002,0.00019,0.13,0.01,0.14,0.005,0.15,0.02,0.16,0.01,0.18,0.04,0.20,0.003,0.0001,0.40,0.08,0.45,0.12,0.45,0.20,0.45,0.30,0.45,0.35,0.42,0.40,0.42,0.40,0.38,0.36,0.33,0.31,0.28,0.26,0.242,
  0.2235,0.1905,0.1565,0.1225,0.0947,0.0725,0.0554,0.0444,0.0355,0.0278,0.0219,0.018,0.0162,0.015];
const P8_35 = [0.10,0.0008,0.13,0.004,0.15,0.0015,0.15,0.01,0.16,0.003,0.17,0.008,0.18,0.015,0.20,0.02,0.24,0.006,0.30,0.05,0.36,0.08,0.40,0.12,0.42,0.18,0.42,0.25,0.42,0.35,0.40,0.38,0.36,0.33,0.31,0.28,0.26,0.242,
  0.2232,0.1902,0.1562,0.1222,0.0945,0.07235,0.0553,0.0443,0.0354,0.02775,0.02185,0.01795,0.01615,0.01495];
const P8_40 = [0.01,0.10,0.0005,0.11,0.003,0.12,0.001,0.12,0.006,0.13,0.002,0.14,0.01,0.15,0.004,0.17,0.02,0.20,0.03,0.28,0.05,0.34,0.08,0.40,0.12,0.42,0.20,0.42,0.28,0.42,0.36,0.38,0.36,0.33,0.31,0.28,0.26,0.242,
  0.223,0.19,0.156,0.122,0.0943,0.0722,0.0552,0.0442,0.0353,0.0277,0.0218,0.0179,0.0161,0.0149];
const P8_45 = [0.06,0.003,0.08,0.0006,0.09,0.004,0.09,0.002,0.10,0.0008,0.11,0.005,0.12,0.003,0.13,0.012,0.16,0.0015,0.22,0.02,0.28,0.03,0.35,0.05,0.40,0.07,0.42,0.12,0.42,0.22,0.42,0.36,0.38,0.34,0.31,0.28,0.261,0.243,
  0.2225,0.1895,0.1555,0.1218,0.09415,0.0721,0.0551,0.04415,0.03525,0.02765,0.02175,0.01785,0.01605,0.01485];
const P8_50 = [0.0011,0.06,0.02,0.07,0.005,0.07,0.01,0.07,0.0012,0.08,0.03,0.0025,0.09,0.02,0.0014,0.10,0.05,0.14,0.0002,0.20,0.06,0.012,0.30,0.028,0.40,0.15,0.45,0.25,0.45,0.35,0.44,0.40,0.38,0.34,0.31,0.285,0.262,0.244,
  0.222,0.189,0.155,0.1215,0.094,0.0720,0.0550,0.0441,0.0352,0.0276,0.0217,0.0178,0.0160,0.0148];

const PANEL_T = [T1, T2, T3, T4, T5, T6, T7, T8];
// each entry: [Vx value, values]
const PANEL_V = [
  [[10,P1_10],[20,P1_20],[30,P1_30],[40,P1_40],[50,P1_50]],
  [[10,P2_10],[15,P2_15],[20,P2_20],[25,P2_25],[30,P2_30],[35,P2_35],[40,P2_40],[45,P2_45],[50,P2_50]],
  [[10,P3_10],[15,P3_15],[20,P3_20],[25,P3_25],[30,P3_30],[35,P3_35],[40,P3_40],[45,P3_45],[50,P3_50]],
  [[10,P4_10],[15,P4_15],[20,P4_20],[25,P4_25],[30,P4_30],[35,P4_35],[40,P4_40],[45,P4_45],[50,P4_50]],
  [[10,P5_10],[15,P5_15],[20,P5_20],[25,P5_25],[30,P5_30],[35,P5_35],[40,P5_40],[45,P5_45],[50,P5_50]],
  [[10,P6_10],[15,P6_15],[20,P6_20],[25,P6_25],[30,P6_30],[35,P6_35],[40,P6_40],[45,P6_45],[50,P6_50]],
  [[10,P7_10],[15,P7_15],[20,P7_20],[25,P7_25],[30,P7_30],[35,P7_35],[40,P7_40],[45,P7_45],[50,P7_50]],
  [[10,P8_10],[15,P8_15],[20,P8_20],[25,P8_25],[30,P8_30],[35,P8_35],[40,P8_40],[45,P8_45],[50,P8_50]]
];

// ---------------- LAYOUT / STYLE ----------------
const FONT = '"Liberation Sans", Arial, Helvetica, sans-serif';
const COL_LEFT = [103, 417, 731, 1045];
const ROW_TOP = [48, 352];
const ROW_H = [257, 256];
const PANEL_W = 270;
const TICK_GREY = '#8a8a8a';
const AXIS_GREY = '#9a9a9a';

const L = Math.log10;
function fmt(v) { return Math.pow(10, v).toFixed(2); }
function majorsIn(r) { return BREAKS.map(L).filter(v => v >= r[0] && v <= r[1]); }
function minorsIn(r) {
  const b = BREAKS.map(L).filter(v => v >= r[0] && v <= r[1]).sort((a, c) => a - c);
  const e = b.slice();
  if (r[0] < b[0]) e.unshift(b[0] - (b[1] - b[0]));
  if (r[1] > b[b.length - 1]) e.push(b[b.length - 1] + (b[b.length - 1] - b[b.length - 2]));
  const m = [];
  for (let i = 0; i < e.length - 1; i++) m.push((e[i] + e[i + 1]) / 2);
  return m.filter(v => v > r[0] && v < r[1]);
}
function majorAxis(dim, p, r) {
  const ticks = majorsIn(r);
  return {
    type: 'value', gridIndex: p, min: r[0], max: r[1],
    position: dim === 'x' ? 'bottom' : 'left', inverse: dim === 'x',
    axisLine: { show: true, onZero: false, lineStyle: { color: AXIS_GREY, width: 1.3 } },
    axisTick: { show: true, length: 4, customValues: ticks, lineStyle: { color: AXIS_GREY, width: 1 } },
    axisLabel: { show: true, customValues: ticks, formatter: fmt, color: TICK_GREY, fontSize: 14, fontFamily: FONT, margin: dim === 'x' ? 4 : 5 },
    splitLine: { show: true, lineStyle: { color: '#EBEBEB', width: 1 } }
  };
}
function minorAxis(dim, p, r) {
  const ticks = minorsIn(r);
  return {
    type: 'value', gridIndex: p, min: r[0], max: r[1],
    position: dim === 'x' ? 'top' : 'right', inverse: dim === 'x',
    axisLine: { show: false },
    axisTick: { show: false, customValues: ticks },
    axisLabel: { show: false, customValues: ticks },
    splitLine: { show: true, lineStyle: { color: '#F3F3F3', width: 1 } }
  };
}
function colorOf(vx) { return VX_COLORS[VX.indexOf(vx)]; }

const grid = [], xAxis = [], yAxis = [], series = [], graphic = [];
for (let p = 0; p < 8; p++) {
  const row = Math.floor(p / 4), col = p % 4;
  const left = COL_LEFT[col], top = ROW_TOP[row];
  grid.push({ left: left, top: top, width: PANEL_W, height: ROW_H[row] });
  const xr = X_RANGES[p].map(L), yr = Y_RANGES[p].map(L);
  xAxis.push(majorAxis('x', p, xr), minorAxis('x', p, xr));
  yAxis.push(majorAxis('y', p, yr), minorAxis('y', p, yr));
  series.push({
    type: 'line', xAxisIndex: 2 * p, yAxisIndex: 2 * p, data: [], silent: true, z: 1,
    markLine: { silent: true, symbol: ['none', 'none'], label: { show: false }, animation: false,
      data: [{ xAxis: L(CATCH_TIME), lineStyle: { color: '#b8b8b8', width: 1.4, type: 'solid' } }] }
  });
  const t = PANEL_T[p];
  PANEL_V[p].forEach(([vx, vals]) => {
    const c = colorOf(vx);
    series.push({
      type: 'line', name: 'Vx ' + vx, xAxisIndex: 2 * p, yAxisIndex: 2 * p,
      data: t.map((tt, i) => [L(tt), L(vals[i])]),
      symbol: 'none', showSymbol: false, clip: true, silent: true, z: 2,
      lineStyle: { color: c, width: 1.8 }, itemStyle: { color: c }
    });
  });
  series.push({
    type: 'line', xAxisIndex: 2 * p, yAxisIndex: 2 * p,
    data: IDENTITY.map(v => [L(v), L(v)]), symbol: 'none', clip: true, silent: true, z: 4,
    lineStyle: { color: '#000', width: 1.3, type: [4, 3] },
    markLine: { silent: true, symbol: ['none', 'none'], label: { show: false }, animation: false,
      data: [{ yAxis: L(ERROR_LIMIT), lineStyle: { color: '#222', width: 1.5, type: 'solid' } }] }
  });
  graphic.push({ type: 'text', x: left + PANEL_W / 2, y: top - 10, silent: true,
    style: { text: PANEL_TITLES[p], fill: '#1a1a1a', font: '15px ' + FONT, align: 'center', verticalAlign: 'middle' } });
}

// colour bar
grid.push({ left: 313, top: 97, width: 18, height: 85 });
xAxis.push({ type: 'category', gridIndex: 8, data: [''], show: false });
yAxis.push({ type: 'value', gridIndex: 8, min: COLORBAR_RANGE[0], max: COLORBAR_RANGE[1], position: 'right', z: 10,
  axisLine: { show: false }, splitLine: { show: false },
  axisTick: { show: true, inside: true, length: 4, customValues: COLORBAR_TICKS, lineStyle: { color: '#fff', width: 1 } },
  axisLabel: { customValues: COLORBAR_TICKS, color: '#1a1a1a', fontSize: 15, fontFamily: FONT, margin: 4 } });
yAxis.push({ type: 'value', gridIndex: 8, min: COLORBAR_RANGE[0], max: COLORBAR_RANGE[1], position: 'left', z: 10,
  axisLine: { show: false }, splitLine: { show: false }, axisLabel: { show: false },
  axisTick: { show: true, inside: true, length: 4, customValues: COLORBAR_TICKS, lineStyle: { color: '#fff', width: 1 } } });
const GRADIENT = new echarts.graphic.LinearGradient(0, 1, 0, 0, VX_COLORS.map((c, i) => ({ offset: i / (VX_COLORS.length - 1), color: c })));
series.push({ type: 'bar', xAxisIndex: 16, yAxisIndex: 16, stack: 'cb', barWidth: '100%', silent: true,
  data: [COLORBAR_RANGE[0]], itemStyle: { color: 'rgba(0,0,0,0)' } });
series.push({ type: 'bar', xAxisIndex: 16, yAxisIndex: 16, stack: 'cb', barWidth: '100%', silent: true,
  data: [COLORBAR_RANGE[1] - COLORBAR_RANGE[0]], itemStyle: { color: GRADIENT } });
graphic.push({ type: 'text', x: 313, y: 87, silent: true,
  style: { text: 'Vx', fill: '#1a1a1a', font: 'bold 16px ' + FONT, align: 'left', verticalAlign: 'middle' } });

// axis titles
graphic.push({ type: 'text', x: 709, y: 650, silent: true,
  style: { text: 'Remaining Time', fill: '#000', font: '19px ' + FONT, align: 'center', verticalAlign: 'middle' } });
graphic.push({ type: 'text', x: 43, y: 327, rotation: Math.PI / 2, silent: true,
  style: { text: 'Predicted value from τ  (s)', fill: '#000', font: '19.5px ' + FONT, align: 'center', verticalAlign: 'middle' } });

const chart = echarts.init(document.getElementById('chart'), null, { renderer: 'canvas' });
chart.setOption({
  animation: false,
  backgroundColor: 'transparent',
  textStyle: { fontFamily: FONT },
  grid: grid, xAxis: xAxis, yAxis: yAxis, series: series, graphic: graphic
});

// caption: fit each line to its measured width
document.querySelectorAll('.cap').forEach(el => {
  const w = el.getBoundingClientRect().width;
  const target = +el.dataset.w;
  el.style.transform = 'scaleX(' + (target / w) + ')';
});
</script>
</body>
</html>
